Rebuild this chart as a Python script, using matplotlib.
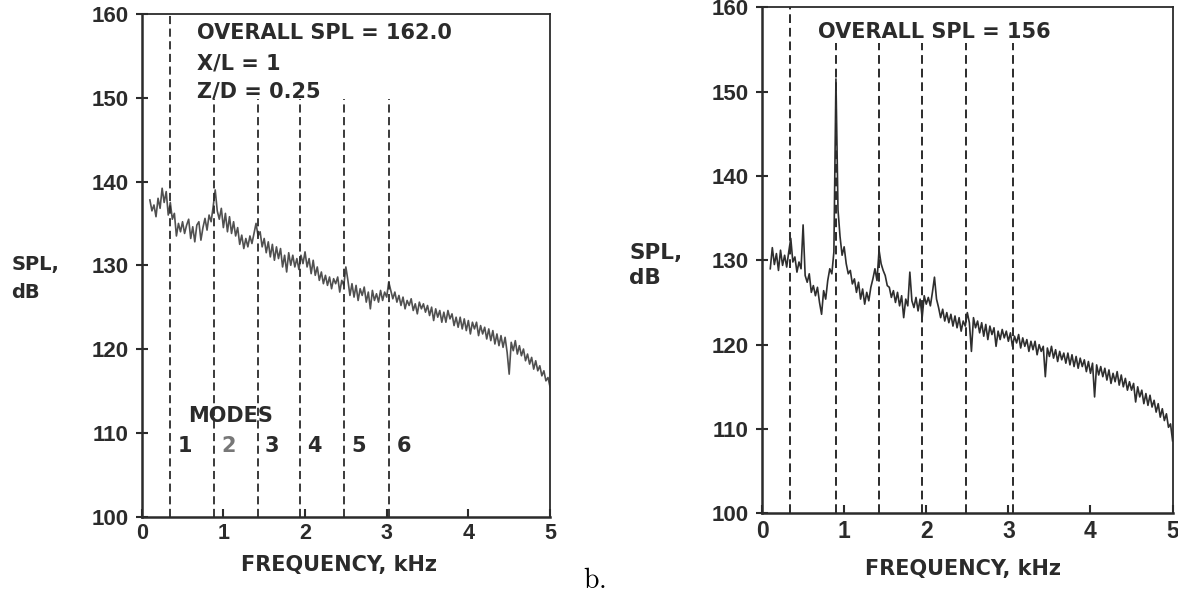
import matplotlib
matplotlib.use('Agg')

import matplotlib.pyplot as plt

# spectrum sample frequencies, kHz (one row = 0.2 kHz)
freq_khz = [
    0.100, 0.125, 0.150, 0.175, 0.200, 0.225, 0.250, 0.275,
    0.300, 0.325, 0.350, 0.375, 0.400, 0.425, 0.450, 0.475,
    0.500, 0.525, 0.550, 0.575, 0.600, 0.625, 0.650, 0.675,
    0.700, 0.725, 0.750, 0.775, 0.800, 0.825, 0.850, 0.875,
    0.900, 0.925, 0.950, 0.975, 1.000, 1.025, 1.050, 1.075,
    1.100, 1.125, 1.150, 1.175, 1.200, 1.225, 1.250, 1.275,
    1.300, 1.325, 1.350, 1.375, 1.400, 1.425, 1.450, 1.475,
    1.500, 1.525, 1.550, 1.575, 1.600, 1.625, 1.650, 1.675,
    1.700, 1.725, 1.750, 1.775, 1.800, 1.825, 1.850, 1.875,
    1.900, 1.925, 1.950, 1.975, 2.000, 2.025, 2.050, 2.075,
    2.100, 2.125, 2.150, 2.175, 2.200, 2.225, 2.250, 2.275,
    2.300, 2.325, 2.350, 2.375, 2.400, 2.425, 2.450, 2.475,
    2.500, 2.525, 2.550, 2.575, 2.600, 2.625, 2.650, 2.675,
    2.700, 2.725, 2.750, 2.775, 2.800, 2.825, 2.850, 2.875,
    2.900, 2.925, 2.950, 2.975, 3.000, 3.025, 3.050, 3.075,
    3.100, 3.125, 3.150, 3.175, 3.200, 3.225, 3.250, 3.275,
    3.300, 3.325, 3.350, 3.375, 3.400, 3.425, 3.450, 3.475,
    3.500, 3.525, 3.550, 3.575, 3.600, 3.625, 3.650, 3.675,
    3.700, 3.725, 3.750, 3.775, 3.800, 3.825, 3.850, 3.875,
    3.900, 3.925, 3.950, 3.975, 4.000, 4.025, 4.050, 4.075,
    4.100, 4.125, 4.150, 4.175, 4.200, 4.225, 4.250, 4.275,
    4.300, 4.325, 4.350, 4.375, 4.400, 4.425, 4.450, 4.475,
    4.500, 4.525, 4.550, 4.575, 4.600, 4.625, 4.650, 4.675,
    4.700, 4.725, 4.750, 4.775, 4.800, 4.825, 4.850, 4.875,
    4.900, 4.925, 4.950, 4.975, 5.000,
]

# left panel: overall SPL 162.0, X/L = 1, Z/D = 0.25
spl_a = [
    137.8, 136.5, 137.2, 135.8, 138.0, 136.8, 139.2, 137.5,
    138.8, 136.0, 137.5, 135.5, 136.2, 133.5, 135.0, 134.0,
    135.2, 133.8, 134.8, 135.5, 133.2, 134.6, 132.8, 134.8,
    135.2, 133.0, 134.5, 135.6, 134.2, 136.0, 135.2, 137.0,
    139.0, 136.5, 135.5, 136.8, 134.5, 136.2, 134.0, 135.8,
    133.8, 135.2, 133.5, 134.5, 132.5, 133.6, 132.0, 133.2,
    132.2, 133.5, 132.6, 133.8, 135.0, 133.5, 134.0, 132.2,
    133.2, 131.5, 132.8, 131.0, 132.5, 130.6, 132.2, 130.8,
    132.0, 129.8, 131.2, 129.2, 131.5, 130.0, 131.2, 129.8,
    130.8, 129.5, 131.2, 130.2, 131.6, 129.8, 130.8, 129.0,
    130.6, 128.8, 129.8, 128.2, 129.2, 127.8, 128.8, 127.6,
    128.6, 127.2, 128.4, 127.8, 128.6, 126.8, 128.2, 127.6,
    129.8, 128.2, 126.4, 127.8, 126.2, 127.6, 125.8, 127.2,
    126.4, 127.4, 125.6, 126.8, 124.8, 127.0, 125.8, 126.6,
    125.6, 127.0, 125.8, 126.8, 126.2, 128.0, 127.0, 126.0,
    126.8, 125.6, 126.4, 125.2, 126.2, 124.8, 125.8, 125.2,
    126.0, 124.6, 125.4, 124.2, 125.6, 124.8, 125.4, 124.4,
    125.2, 124.0, 125.0, 123.4, 124.8, 123.8, 124.6, 123.2,
    124.4, 123.2, 124.6, 123.6, 124.2, 122.8, 123.8, 122.6,
    123.8, 122.4, 123.6, 122.2, 123.4, 121.8, 123.2, 122.4,
    123.2, 121.6, 122.8, 121.8, 122.6, 121.2, 122.4, 121.0,
    122.2, 120.6, 121.8, 120.4, 121.6, 120.2, 121.4, 119.6,
    117.0, 120.8, 119.8, 121.0, 119.4, 120.4, 119.2, 120.0,
    118.6, 119.4, 118.2, 119.0, 117.6, 118.6, 117.4, 118.0,
    116.8, 117.4, 116.2, 116.6, 115.5,
]

# right panel: overall SPL 156
spl_b = [
    129.0, 131.5, 129.5, 130.8, 128.8, 131.2, 129.4, 130.6,
    129.2, 131.0, 132.6, 129.8, 130.4, 128.6, 129.8, 129.0,
    134.2, 128.2, 127.4, 128.4, 126.2, 127.0, 125.8, 126.8,
    125.0, 123.6, 126.4, 125.4, 127.6, 129.0, 128.4, 131.0,
    151.5, 136.0, 132.8, 130.6, 131.6, 129.6, 128.4, 128.8,
    127.2, 127.8, 126.2, 127.4, 125.4, 126.6, 124.8, 126.2,
    125.2, 126.8, 127.8, 129.0, 127.6, 131.2, 129.6, 128.8,
    128.2, 127.0, 126.8, 125.6, 126.4, 125.0, 126.2, 124.6,
    125.8, 123.2, 125.4, 124.6, 128.6, 125.2, 124.4, 125.6,
    124.0, 125.4, 123.2, 125.8, 124.8, 125.6, 124.6, 126.2,
    128.0, 125.4, 124.4, 123.2, 124.2, 122.8, 123.8, 122.6,
    123.6, 122.2, 123.4, 122.0, 123.2, 121.6, 122.8, 122.2,
    123.8, 122.6, 119.2, 123.2, 122.0, 122.8, 121.4, 122.6,
    121.0, 122.4, 120.6, 122.2, 121.2, 122.0, 119.8, 121.6,
    120.6, 121.8, 120.8, 121.6, 120.4, 121.4, 119.8, 121.0,
    120.2, 121.2, 119.6, 120.8, 119.8, 120.6, 119.2, 120.4,
    119.4, 120.4, 118.8, 120.0, 119.2, 119.8, 116.2, 119.6,
    118.6, 119.8, 118.4, 119.4, 118.0, 119.2, 118.2, 119.0,
    117.8, 119.0, 117.6, 118.8, 117.4, 118.6, 117.2, 118.4,
    117.4, 118.2, 116.8, 118.0, 116.6, 117.8, 113.8, 117.6,
    116.4, 117.4, 116.2, 117.2, 115.8, 117.0, 115.4, 116.6,
    115.6, 116.8, 115.2, 116.4, 115.0, 116.0, 114.6, 115.6,
    114.6, 115.4, 113.2, 115.0, 113.8, 114.6, 113.0, 114.2,
    112.8, 114.0, 112.6, 113.4, 112.0, 113.0, 111.4, 112.4,
    111.0, 111.8, 110.2, 110.6, 108.6,
]

modes_a = [0.35, 0.88, 1.42, 1.94, 2.48, 3.03]
modes_b = [0.34, 0.90, 1.43, 1.95, 2.49, 3.06]
mode_labels = ['1', '2', '3', '4', '5', '6']

info_a = ['OVERALL SPL = 162.0', 'X/L = 1', 'Z/D = 0.25']
info_b = ['OVERALL SPL = 156']

x_ticks = [0, 1, 2, 3, 4, 5]
y_ticks = [100, 110, 120, 130, 140, 150, 160]

INK = '#2b2b2b'
TEXT_FONT = 'DejaVu Sans'
TICK_FONT = 'Liberation Sans'
DASH = (0, (4.5, 2.5))


def style_axes(ax, xtick_size, ytick_size):
    ax.set_xlim(0, 5)
    ax.set_ylim(100, 160)
    ax.set_xticks(x_ticks)
    ax.set_yticks(y_ticks)
    ax.set_xticklabels([str(t) for t in x_ticks], fontsize=xtick_size,
                       fontweight='bold', family=TICK_FONT, color=INK)
    ax.set_yticklabels([str(t) for t in y_ticks], fontsize=ytick_size,
                       fontweight='bold', family=TICK_FONT, color=INK)
    ax.tick_params(axis='x', direction='in', length=6, width=1.5, pad=5, colors=INK)
    ax.tick_params(axis='y', direction='inout', length=9, width=1.5, pad=5, colors=INK)
    for side in ['left', 'bottom']:
        ax.spines[side].set_linewidth(1.8)
        ax.spines[side].set_color(INK)
    for side in ['top', 'right']:
        ax.spines[side].set_linewidth(1.3)
        ax.spines[side].set_color(INK)


fig = plt.figure(figsize=(11.78, 5.95), dpi=100)

# ---- left panel ----
ax_a = fig.add_axes([0.1203, 0.1319, 0.3466, 0.8445])
ax_a.plot(freq_khz, spl_a, color='#505050', lw=1.2)
for i, m in enumerate(modes_a):
    top = 160 if i == 0 else 149.8
    ax_a.plot([m, m], [100, top], color=INK, lw=1.3, linestyle=DASH)
    ax_a.text(m + 0.09, 107.7, mode_labels[i], fontsize=15, fontweight='bold',
              family=TEXT_FONT, color='#777777' if i == 1 else INK, va='baseline')
ax_a.text(0.57, 111.3, 'MODES', fontsize=15, fontweight='bold', family=TEXT_FONT,
          color=INK, va='baseline')
for txt, yb in zip(info_a, [157.0, 153.4, 150.05]):
    ax_a.text(0.673, yb, txt, fontsize=15, fontweight='bold', family=TEXT_FONT,
              color=INK, va='baseline')
style_axes(ax_a, 15.5, 16)

# ---- right panel ----
ax_b = fig.add_axes([0.6469, 0.1373, 0.3485, 0.8504])
ax_b.plot(freq_khz, spl_b, color='#2e2e2e', lw=1.2)
for i, m in enumerate(modes_b):
    top = 160 if i == 0 else 155.8
    ax_b.plot([m, m], [100, top], color=INK, lw=1.4, linestyle=DASH)
ax_b.text(0.686, 156.4, info_b[0], fontsize=15, fontweight='bold', family=TEXT_FONT,
          color=INK, va='baseline')
style_axes(ax_b, 16.5, 16)

# axis titles
fig.text(0.0098, 0.5563, 'SPL,', fontsize=14, fontweight='bold', family=TEXT_FONT,
         color=INK, ha='left', va='center')
fig.text(0.0098, 0.5076, 'dB', fontsize=14, fontweight='bold', family=TEXT_FONT,
         color=INK, ha='left', va='center')
fig.text(0.5342, 0.5748, 'SPL,', fontsize=15.5, fontweight='bold', family=TEXT_FONT,
         color=INK, ha='left', va='center')
fig.text(0.5342, 0.5323, 'dB', fontsize=15.5, fontweight='bold', family=TEXT_FONT,
         color=INK, ha='left', va='center')
fig.text(0.2878, 0.0504, 'FREQUENCY, kHz', fontsize=15, fontweight='bold',
         family=TEXT_FONT, color=INK, ha='center', va='center')
fig.text(0.8175, 0.0437, 'FREQUENCY, kHz', fontsize=15, fontweight='bold',
         family=TEXT_FONT, color=INK, ha='center', va='center')

plt.rcParams['mathtext.fontset'] = 'cm'
fig.text(0.4949, 0.0118, r'$\mathrm{b.}$', fontsize=20, color='black',
         ha='left', va='baseline')

fig.savefig('out.png', dpi=100, facecolor='white')
plt.close(fig)
